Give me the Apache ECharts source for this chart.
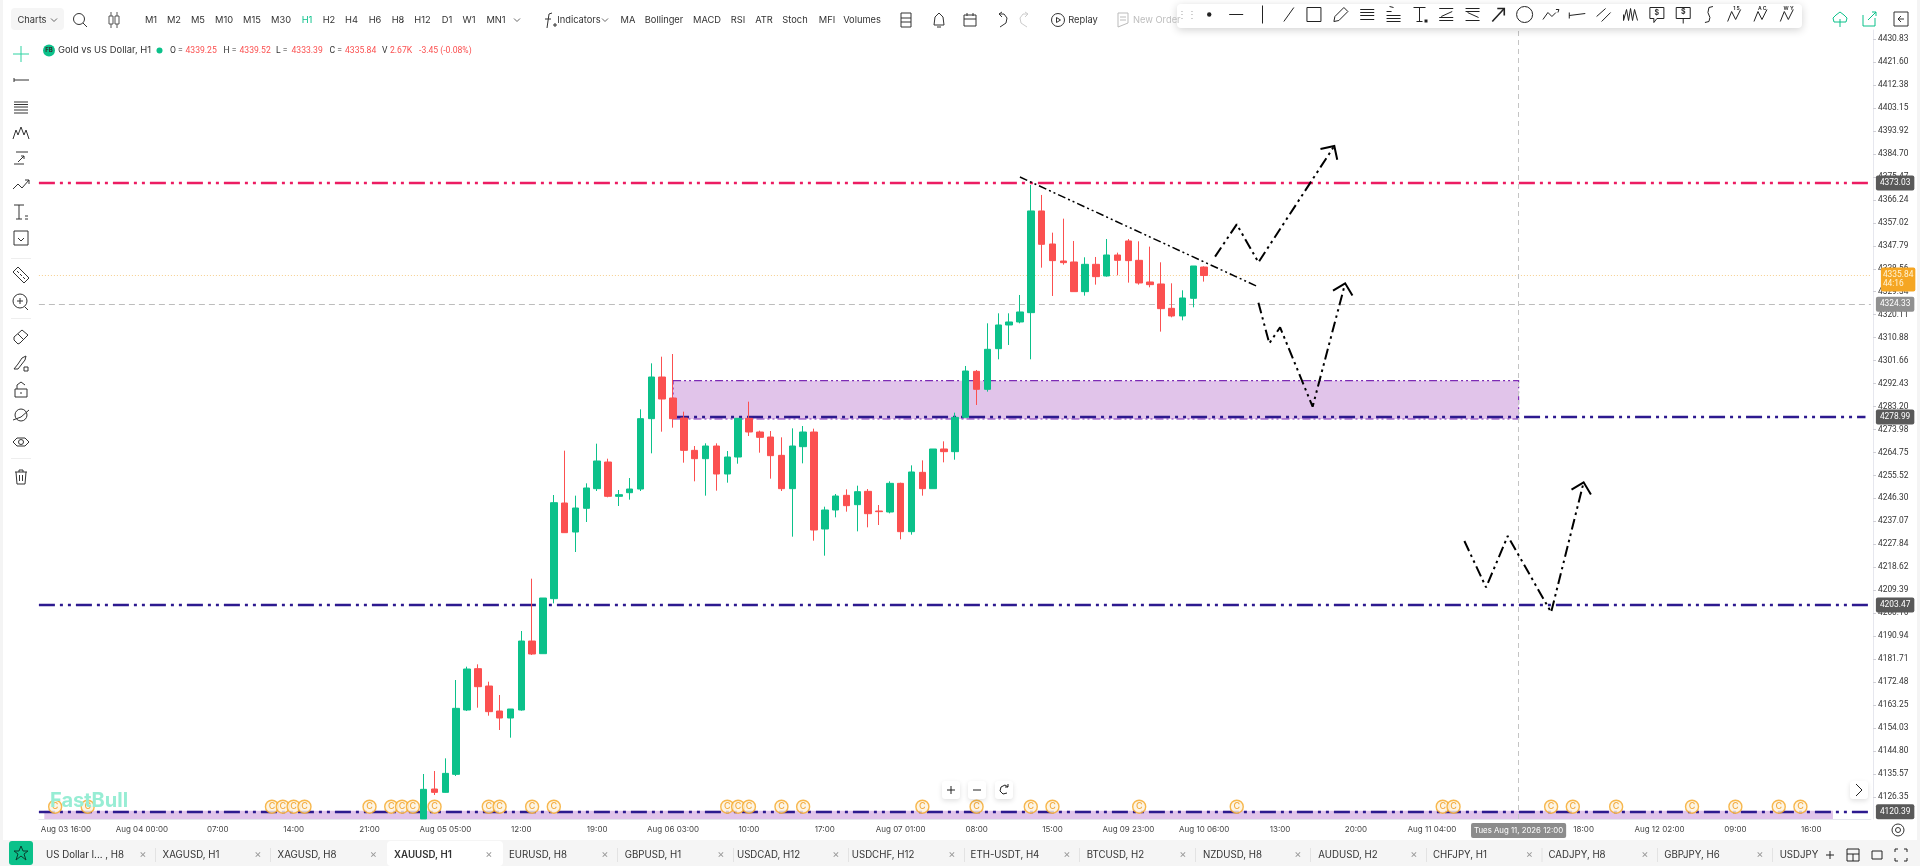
<!DOCTYPE html>
<html><head><meta charset="utf-8"><title>XAUUSD H1</title>
<style>html,body{margin:0;padding:0;background:#fff;overflow:hidden}#c{width:1920px;height:866px}</style>
<script src="https://cdn.jsdelivr.net/npm/echarts@6/dist/echarts.min.js"></script></head>
<body><div id="c"></div><script>
const tickLabels=['Aug 03 16:00','Aug 04 00:00','07:00','14:00','21:00','Aug 05 05:00','12:00','19:00','Aug 06 03:00','10:00','17:00','Aug 07 01:00','08:00','15:00','Aug 09 23:00','Aug 10 06:00','13:00','20:00','Aug 11 04:00','11:00','18:00','Aug 12 02:00','09:00','16:00'];
const priceTicks=[4430.83,4421.60,4412.38,4403.15,4393.92,4384.70,4375.47,4366.24,4357.02,4347.79,4338.56,4329.34,4320.11,4310.88,4301.66,4292.43,4283.20,4273.98,4264.75,4255.52,4246.30,4237.07,4227.84,4218.62,4209.39,4200.16,4190.94,4181.71,4172.48,4163.25,4154.03,4144.80,4135.57,4126.35];
const firstBar=33;
const opens=[4117.5,4129.50,4128.16,4135.39,4161.25,4177.86,4170.89,4160.84,4158.03,4161.25,4188.97,4183.88,4205.98,4244.43,4232.77,4242.29,4250.19,4260.90,4247.11,4248.58,4250.05,4278.32,4295.06,4286.62,4278.59,4265.59,4262.24,4267.33,4256.08,4262.91,4278.45,4272.96,4270.95,4263.58,4250.19,4267.07,4272.96,4233.98,4241.62,4247.51,4243.76,4249.12,4241.21,4240.81,4252.33,4232.91,4256.75,4250.19,4266.13,4265.06,4278.85,4297.34,4290.11,4306.45,4315.96,4317.17,4320.92,4361.78,4348.51,4341.68,4341.28,4329.36,4340.34,4335.66,4344.09,4349.72,4341.95,4333.24,4332.44,4322.66,4319.58,4326.68,4339.25];
const closes=[4129.37,4128.16,4135.79,4161.92,4177.72,4170.62,4160.58,4158.03,4161.65,4188.97,4183.75,4206.25,4244.56,4232.51,4242.42,4250.46,4261.31,4247.11,4247.78,4250.05,4278.32,4295.06,4286.22,4278.32,4265.59,4262.24,4267.33,4256.08,4262.91,4278.45,4272.96,4270.82,4263.45,4250.19,4267.33,4272.96,4233.58,4241.62,4247.24,4243.36,4248.98,4240.14,4240.95,4252.33,4232.91,4256.89,4250.19,4266.13,4265.06,4278.85,4297.47,4290.11,4306.19,4315.96,4317.17,4321.19,4361.78,4348.38,4341.82,4341.01,4329.36,4340.34,4335.39,4344.09,4341.95,4341.82,4332.84,4332.17,4322.53,4319.58,4326.81,4339.67,4335.84];
const lows=[4117.5,4127.09,4128.03,4134.72,4160.84,4162.18,4158.97,4153.21,4150.13,4160.98,4183.35,4183.88,4204.11,4232.51,4224.74,4236.79,4249.25,4246.71,4243.22,4245.77,4249.25,4264.39,4273.09,4274.70,4260.64,4253.14,4247.38,4249.38,4252.60,4260.23,4271.35,4264.65,4254.21,4249.25,4230.90,4260.37,4229.29,4223.26,4238.67,4240.95,4233.04,4234.65,4235.59,4240.28,4229.83,4231.70,4247.38,4250.19,4260.77,4261.84,4278.85,4283.82,4289.17,4302.17,4307.93,4316.63,4302.17,4339.00,4327.62,4340.21,4329.36,4327.75,4332.17,4335.39,4335.92,4332.98,4332.17,4331.10,4313.29,4319.05,4317.84,4323.06,4333.39];
const highs=[4135.53,4136.73,4141.82,4173.30,4178.66,4179.60,4172.63,4167.27,4161.65,4192.99,4214.02,4206.25,4247.64,4265.46,4247.38,4252.33,4268.27,4262.24,4249.65,4254.47,4282.07,4300.55,4303.23,4304.30,4281.13,4267.33,4268.41,4268.41,4265.32,4278.45,4285.15,4273.50,4273.36,4270.82,4274.43,4275.37,4274.30,4242.95,4248.05,4249.92,4251.39,4250.05,4243.62,4253.14,4252.60,4259.56,4261.57,4266.13,4269.21,4280.73,4299.49,4297.88,4316.63,4320.65,4320.65,4328.02,4372.22,4368.21,4353.07,4358.69,4349.72,4343.16,4343.29,4350.52,4345.03,4350.52,4349.59,4347.44,4341.15,4332.71,4329.90,4339.67,4339.52];
const resistance=4373.03, zoneLine=4278.99, support=4203.47, lowLine=4120.39, lastPrice=4335.84, pendingPrice=4324.33;
const zoneTop=4293.59, zoneBottom=4278.18, bandTop=4120.79, axisMin=4117.45, axisMax=4434.5;
const zoneBars=[56,134], bandBars=[-2,163], crossBar=134, zoneLineBars=[56,166];
const trendBars=[88,110], trendPrices=[4375.43,4331.23];
const pathABars=[106,108,110,117], pathAPrices=[4343.42,4356.41,4341.14,4387.89];
const pathBBars=[110,111,112,115,118], pathBPrices=[4324.93,4308.59,4315.02,4283.14,4332.70];
const pathCBars=[129,131,133,137,140], pathCPrices=[4229.16,4210.54,4231.17,4200.49,4252.73];
const coinBars=[-1,2,19,20,21,22,28,30,31,32,34,39,40,43,45,61,62,63,66,68,79,84,89,91,99,108,127,128,137,139,143,150,154,158,160];
const coinPrice=4122.39;
const topMenu=[['M1',151],['M2',174],['M5',198],['M10',224],['M15',252],['M30',281],['H1',307],['H2',329],['H4',351.5],['H6',375],['H8',398],['H12',422.5],['D1',447],['W1',469],['MN1',496],['Indicators',579],['MA',628],['Bollinger',664],['MACD',707],['RSI',738],['ATR',764],['Stoch',795],['MFI',827],['Volumes',862]];
const tabs=[['US Dollar I... , H8',85,143],['XAGUSD, H1',191,258],['XAGUSD, H8',307,373.5],['XAUUSD, H1',423,489],['EURUSD, H8',538,605],['GBPUSD, H1',653,721],['USDCAD, H12',768.5,836],['USDCHF, H12',883,952],['ETH-USDT, H4',1005,1067],['BTCUSD, H2',1115.5,1183],['NZDUSD, H8',1232.5,1298],['AUDUSD, H2',1348,1414],['CHFJPY, H1',1460,1529.5],['CADJPY, H8',1577,1645],['GBPJPY, H6',1692,1760],['USDJPY',1799,null]];

const leadBars=2, barCount=169, tickEvery=7;
const ix=k=>k+leadBars;
const categories=Array.from({length:barCount},(_,i)=>{const k=i-leadBars;return k>=0&&k%tickEvery===0&&tickLabels[k/tickEvery]?tickLabels[k/tickEvery]:'';});
const candles=categories.map((_,i)=>{const j=i-leadBars-firstBar;return j>=0&&j<opens.length?[opens[j],closes[j],lows[j],highs[j]]:'-';});
const FONT='Inter, "Noto Sans", sans-serif', NUM='Roboto, Inter, sans-serif';
const UP='#0bc18a',DOWN='#fb5050',NAVY='#2d1a8f',PINK='#ec1c62',INK='#333';
const tag=(txt,bg,dist,col,extra)=>Object.assign({show:true,position:'end',distance:dist,formatter:txt,backgroundColor:bg,color:col||'#fff',fontFamily:NUM,fontSize:8.4,padding:[3,4],borderRadius:2,lineHeight:9},extra||{});
const DD=[16,5,3,5,3,5];
const hline=(v,c,w,t,lab)=>({yAxis:v,lineStyle:{color:c,width:w,type:t},label:lab});
const line=(name,bars,prices,arrow,w,dash)=>({name,type:'line',z:5,silent:true,animation:false,showSymbol:true,showAllSymbol:true,
  data:bars.map((b,i)=>({value:[ix(b),prices[i]],symbol:(arrow!==null&&i===bars.length-1)?'path://M3 20L10 10L17 20M10 0L10 0':'none',symbolSize:20,symbolRotate:arrow||0})),
  lineStyle:{color:'#000',width:w,type:dash,cap:'butt'},itemStyle:{color:'rgba(0,0,0,0)',borderColor:'#000',borderWidth:2}});

const G=[];
const T=(text,x,y,o={})=>G.push({type:'text',z:o.z||100,silent:true,style:{text,x,y,fill:o.fill||INK,font:(o.weight||'400')+' '+(o.size||9.3)+'px '+(o.family||FONT),align:o.align||'center',verticalAlign:'middle',opacity:o.opacity==null?1:o.opacity}});
const R=(x,y,w,h,fill,o={})=>G.push({type:'rect',z:o.z||90,silent:true,shape:{x,y,width:w,height:h,r:o.r||0},style:{fill,stroke:o.stroke||null,lineWidth:o.lw||1,shadowBlur:o.blur||0,shadowColor:o.sc||'rgba(0,0,0,0)',shadowOffsetY:o.blur?2:0}});
const IC={
 plus:[[[-8,0],[8,0]],[[0,-8],[0,8]]],
 ray:[[[-7,0],[8,0]],[[-7,-2],[-7,2]]],
 lines:[[[-7,-5],[7,-5]],[[-7,-2.5],[7,-2.5]],[[-7,0],[7,0]],[[-7,3],[7,3]],[[-7,6],[7,6]]],
 mount:[[[-8,6],[-5,-3],[-3,2],[0,-6],[3,2],[5,-3],[8,6]]],
 hook:[[[-5,-6],[7,-6]],[[-7,6],[3,6]],[[-3,4],[3,-2]],[[0,-2],[3,-2],[3,1]]],
 zig:[[[-8,4],[-3,-1],[1,3],[8,-5]],[[4,-5],[8,-5],[8,-1]]],
 text:[[[-7,-7],[3,-7]],[[-2,-7],[-2,7]],[[-5,7],[1,7]],[[4,4],[7,4]],[[4,7],[7,7]]],
 smile:[[[-7,-7],[7,-7],[7,7],[-7,7],[-7,-7]],[[-3,0],[0,3],[3,0]]],
 ruler:[[[-8,-3],[-3,-8],[8,3],[3,8],[-8,-3]],[[-4,-4],[-2,-2]],[[-1,-1],[1,1]],[[2,2],[4,4]]],
 zoom:[{c:[-1,-1,7]},[[-1,-4],[-1,2]],[[-4,-1],[2,-1]],[[4,5],[7,8]]],
 mag:[[[-3,7],[-7,3],[-7,0],[1,-7],[7,-2],[-1,6],[-3,7]],[[-3,-3],[3,3]]],
 brush:[[[-7,6],[-3,1],[1,-5],[5,-7],[4,-3],[-3,6],[-7,6]],[[3,4],[7,4],[7,8],[3,8],[3,4]]],
 lock:[[[-6,-1],[6,-1],[6,7],[-6,7],[-6,-1]],[[-4,-1],[-4,-5],[0,-8],[4,-5]],[[0,2],[0,4]]],
 planet:[{c:[0,0,6]},[[-8,5],[0,2],[8,-5]]],
 eye:[[[-8,0],[-4,-4],[4,-4],[8,0],[4,4],[-4,4],[-8,0]],{c:[0,0,2.5]}],
 trash:[[[-6,-5],[6,-5]],[[-2,-5],[-2,-7],[2,-7],[2,-5]],[[-5,-5],[-4,7],[4,7],[5,-5]],[[-1.5,-2],[-1.5,4]],[[1.5,-2],[1.5,4]]],
 search:[{c:[-1,-1,5.5]},[[3,3],[7,7]]],
 candle:[[[-3,-8],[-3,-4]],[[-3,4],[-3,8]],{r:[-5,-4,4,8]},[[3,-8],[3,-4]],[[3,4],[3,8]],{r:[1,-4,4,8]}],
 fx:[[[-2,8],[0,-6],[3,-7]],[[-4,-1],[2,-1]],[[4,5],[8,5]],[[6,3],[6,7]]],
 card:[[[-5,-7],[5,-7],[5,7],[-5,7],[-5,-7]],[[-5,-2],[5,-2]],[[-5,2],[5,2]]],
 bell:[[[-5,5],[-4,-3],[0,-7],[4,-3],[5,5],[-5,5]],[[-2,7],[2,7]]],
 cal:[[[-6,-5],[6,-5],[6,6],[-6,6],[-6,-5]],[[-6,-1],[6,-1]],[[-3,-7],[-3,-4]],[[3,-7],[3,-4]]],
 undo:[[[-4,-6],[1,-6],[4,-2],[3,3],[-3,7]],[[-4,-6],[-1,-8]],[[-4,-6],[-1,-3]]],
 redo:[[[4,-6],[-1,-6],[-4,-2],[-3,3],[3,7]],[[4,-6],[1,-8]],[[4,-6],[1,-3]]],
 replay:[{c:[0,0,6.5]},[[-1.5,-2.5],[2.5,0],[-1.5,2.5],[-1.5,-2.5]]],
 doc:[[[-5,-7],[5,-7],[5,3],[-5,7],[-5,-7]],[[-3,-3],[3,-3]],[[-3,0],[3,0]]],
 dot:[{c:[0,0,2.2,1]}], dash:[[[-7,0],[7,0]]], vert:[[[0,-9],[0,9]]], diag:[[[-5,7],[5,-7]]],
 box:[{r:[-7,-7,14,14]}],
 pen:[[[-7,7],[-6,2],[3,-7],[7,-3],[-2,6],[-7,7]]],
 l4:[[[-7,-5],[7,-5]],[[-7,-2],[7,-2]],[[-7,1],[7,1]],[[-7,5],[7,5]]],
 fib:[[[-4,-8],[0,-7]],[[-7,-3],[-2,-3]],[[-7,1],[7,1]],[[-7,4],[7,4]],[[-7,7],[7,7]]],
 tb:[[[-7,-7],[5,-7]],[[-1,-7],[-1,7]],[[-4,7],[2,7]],{r:[4,5,3,3,1]}],
 z1:[[[-7,-6],[7,-6]],[[-7,6],[7,6]],[[-5,2],[6,-3]],[[-7,3],[7,3]]],
 z2:[[[-7,-6],[7,-6]],[[-7,6],[7,6]],[[-7,-3],[7,-3]],[[-5,-2],[6,3]]],
 arrow:[[[-6,7],[6,-6]],[[-1,-6],[6,-6],[6,1]]],
 ring:[{c:[0,0,8]}],
 w2:[[[-8,5],[-3,-2],[1,2],[5,-2]],[[5,-5],[8,-5],[7,-2]]],
 h2:[[[-8,1],[8,-1]],[[-8,-2],[-8,4]]],
 para:[[[-7,2],[2,-6]],[[-2,7],[7,-2]]],
 sm:[[[-7,0],[-7,6]],[[-4,-5],[-7,6]],[[-4,-5],[-2,6]],[[-2,6],[0,-6]],[[0,-6],[2,6]],[[2,6],[4,-5]],[[4,-5],[7,6]]],
 bub:[[[-7,-7],[7,-7],[7,4],[0,4],[-3,8],[-3,4],[-7,4],[-7,-7]]],
 flag:[[[-7,-7],[7,-7],[7,4],[-7,4],[-7,-7]],[[0,4],[0,9]]],
 curve:[[[4,-8],[0,-7],[-1,-2],[1,3],[0,7],[-4,8]]],
 nn:[[[-7,7],[-3,-3],[1,5],[6,-5]]],
 cloud:[[[-6,3],[-7,-1],[-4,-4],[0,-7],[4,-4],[7,-1],[6,3],[-6,3]],[[0,0],[0,8]]],
 share:[[[-6,-4],[-6,7],[6,7],[6,-1]],[[-1,1],[7,-7]],[[3,-7],[7,-7],[7,-3]]],
 panel:[[[-7,-7],[7,-7],[7,7],[-7,7],[-7,-7]],[[0,-3],[-3,0],[0,3]],[[-3,0],[3,0]]],
 gear:[{c:[0,0,6]},{c:[0,0,2.5]}],
 chev:[[[-3,-6],[3,0],[-3,6]]],
 chevd:[[[-3,-1.5],[0,1.5],[3,-1.5]]],
 minus:[[[-4,0],[4,0]]], plusS:[[[-4,0],[4,0]],[[0,-4],[0,4]]],
 reset:[[[4,-3],[1,-5],[-3,-3],[-4,1],[-1,4],[3,3]],[[4,-6],[4,-3],[1,-3]]],
 layout:[[[-6,-6],[6,-6],[6,6],[-6,6],[-6,-6]],[[-6,-1],[6,-1]],[[0,-1],[0,6]]],
 win:[[[-5,-4],[5,-4],[5,4],[-5,4],[-5,-4]]],
 full:[[[-6,-3],[-6,-6],[-3,-6]],[[3,-6],[6,-6],[6,-3]],[[6,3],[6,6],[3,6]],[[-3,6],[-6,6],[-6,3]]],
 star:[[[0,-7],[2,-2],[7,-2],[3,1],[5,7],[0,3],[-5,7],[-3,1],[-7,-2],[-2,-2],[0,-7]]]
};
const icon=(name,x,y,color,lw)=>{(IC[name]||[]).forEach(p=>{
 const st={stroke:color||'#333',fill:null,lineWidth:lw||1};
 if(Array.isArray(p))G.push({type:'polyline',z:101,silent:true,x,y,shape:{points:p},style:st});
 else if(p.c)G.push({type:'circle',z:101,silent:true,x,y,shape:{cx:p.c[0],cy:p.c[1],r:p.c[2]},style:p.c[3]?{fill:color||'#333'}:{...st}});
 else if(p.r)G.push({type:'rect',z:101,silent:true,x,y,shape:{x:p.r[0],y:p.r[1],width:p.r[2],height:p.r[3]},style:p.r[4]?{fill:color||'#333'}:{...st}});
});};
// frame
R(0,0,3,866,'#f4f4f4',{z:80});R(1917,0,3,866,'#f4f4f4',{z:80});R(0,840,1920,26,'#f5f5f5',{z:80});
// top bar
R(11,8,53,22,'#f5f5f5',{r:4});
T('Charts',32,20);icon('chevd',54,20,'#666',1);icon('chevd',605,20,'#666',1);icon('chevd',517,20,'#666',1);
[['search',80,20],['candle',114,20,'#555'],['fx',549,20],['card',906,20],['bell',939,20],['cal',970,20],['undo',1003,20],['redo',1024,20,'#ccc'],['replay',1058,20],['doc',1123,20,'#bbb'],['cloud',1840,19,'#0bc18a'],['share',1869,19,'#0bc18a'],['panel',1901,19]].forEach(a=>icon(a[0],a[1],a[2],a[3],1));
topMenu.forEach(m=>T(m[0],m[1],20,{fill:m[0]==='H1'?'#0bc18a':INK}));
T('Replay',1083,20);T('New Order',1133,20,{align:'left',fill:'#bdbdbd'});
R(1177,4,625,24,'#fff',{r:4,blur:8,sc:'rgba(0,0,0,0.18)',z:95});
[['dot',407],['dash',451],['vert',494],['diag',537],['box',578],['pen',622],['l4',665],['fib',708],['tb',752],['z1',794],['z2',837],['arrow',879,1.6],['ring',922],['w2',965],['h2',1008],['para',1051],['sm',1095],['bub',1138],['flag',1181],['curve',1223],['nn',1265],['nn',1308],['nn',1351]].forEach(a=>icon(a[0],960+a[1]/1.633,14.5,'#222',a[2]||1));
T('⋮⋮',960+370/1.633,14.5,{fill:'#aaa',size:10,z:101});
T('1 5',960+1268/1.633,8,{size:5,z:102,weight:'700'});T('A C',960+1310/1.633,8,{size:5,z:102,weight:'700'});T('W Y',960+1353/1.633,8,{size:5,z:102,weight:'700'});
T('$',960+1138/1.633,12.5,{size:7,z:102,weight:'700'});T('$',960+1181/1.633,12,{size:7,z:102,weight:'700'});
// left bar
[['plus',54,'#2fd3a2'],['ray',80],['lines',107],['mount',133],['hook',158],['zig',185],['text',212],['smile',238],['ruler',275],['zoom',302],['mag',337],['brush',363],['lock',390],['planet',415],['eye',442],['trash',477]].forEach(a=>icon(a[0],21,a[1],a[2]||'#333',1));
[258,318,458].forEach(y=>R(11,y,20,1,'#eeeeee'));
// header
G.push({type:'circle',z:100,silent:true,shape:{cx:49,cy:50.5,r:6},style:{fill:'#0bc18a'}});
T('FB',49,50.5,{size:6,weight:'700',z:101});
T('Gold vs US Dollar, H1',58,50.5,{align:'left',size:9.4});
G.push({type:'circle',z:100,silent:true,shape:{cx:159.5,cy:50.5,r:3},style:{fill:'#0bc18a'}});
[['O =',170,INK],['4339.25',185.5,DOWN],['H =',223.5,INK],['4339.52',239.5,DOWN],['L =',276,INK],['4333.39',291.5,DOWN],['C =',329.5,INK],['4335.84',345,DOWN],['V',382,INK],['2.67K',390,DOWN],['-3.45 (-0.08%)',419,DOWN]].forEach(a=>T(a[0],a[1],50.5,{align:'left',fill:a[2],size:8.6,family:NUM}));
// logo & nav
T('FastBull',50,801,{align:'left',size:20,weight:'700',fill:'#97edd4',z:60});
[[951,'plusS'],[977,'minus'],[1004,'reset']].forEach(a=>{R(a[0]-9,781,18,18,'#fff',{r:3,blur:5,sc:'rgba(0,0,0,0.12)'});icon(a[1],a[0],790,'#222',1);});
R(1850,781,18,18,'#fff',{r:3,blur:5,sc:'rgba(0,0,0,0.12)'});icon('chev',1859,790,'#222',1);
icon('gear',1898,830,'#333',1);
// tabs
R(9,841,24,24,'#0bc18a',{r:3});icon('star',21,853,'#0a3d2e',1);
R(387,841,116,25,'#fff',{r:4});
tabs.forEach((t,i)=>{T(t[0],t[1],855,{size:9.7,weight:t[0]==='XAUUSD, H1'?'600':'400'});if(t[2]){T('×',t[2],855,{size:11,fill:'#999'});if(i!==2&&i!==3)R(t[2]+12,848,1,14,'#e3e3e3');}});
[['plusS',1830,'#222'],['layout',1853,'#222'],['win',1877,'#222'],['full',1901,'#222']].forEach(a=>icon(a[0],a[1],855,a[2],1));

const chart=echarts.init(document.getElementById('c'),null,{renderer:'canvas'});
chart.setOption({animation:false,backgroundColor:'#fff',graphic:{elements:G},
 grid:{left:38.9,right:49.1,top:30,bottom:47},
 xAxis:{type:'category',data:categories,boundaryGap:true,
  axisLine:{lineStyle:{color:'#e6e7ee'}},
  axisTick:{alignWithLabel:true,length:3,lineStyle:{color:'#cfcfd6'},interval:(i,n)=>n!==''},
  axisLabel:{interval:(i,n)=>n!=='',color:'#444',fontSize:8,fontFamily:FONT,margin:7,hideOverlap:false},splitLine:{show:false}},
 yAxis:{type:'value',position:'right',offset:2.1,min:axisMin,max:axisMax,scale:true,
  axisLine:{show:true,lineStyle:{color:'#e6e7ee'}},
  axisTick:{show:true,length:3,lineStyle:{color:'#cfcfd6'},customValues:priceTicks},
  axisLabel:{customValues:priceTicks,color:'#333',fontSize:8.4,fontFamily:NUM,margin:5,formatter:v=>v.toFixed(2),showMinLabel:true,showMaxLabel:true},splitLine:{show:false}},
 series:[
  {name:'XAUUSD',type:'candlestick',z:3,data:candles,barWidth:7,
   itemStyle:{color:UP,color0:DOWN,borderColor:UP,borderColor0:DOWN,borderWidth:1},
   markArea:{silent:true,z:1,data:[
     [{xAxis:ix(zoneBars[0]),yAxis:zoneTop,itemStyle:{color:'#e1c4ea',borderColor:'#7d2bb5',borderWidth:1.2,borderType:[8,3,2,3,2,3]}},{xAxis:ix(zoneBars[1]),yAxis:zoneBottom}],
     [{xAxis:ix(bandBars[0]),yAxis:bandTop,itemStyle:{color:'#e1c4ea'}},{xAxis:ix(bandBars[1]),yAxis:axisMin}]
   ]},
   markLine:{silent:true,z:1,symbol:'none',animation:false,data:[
     hline(resistance,PINK,2.4,DD,tag('4373.03','#595959',5)),
     [{xAxis:ix(zoneLineBars[0]),yAxis:zoneLine,lineStyle:{color:NAVY,width:2.4,type:DD},label:tag('4278.99','#595959',10.4)},{xAxis:ix(zoneLineBars[1]),yAxis:zoneLine}],
     hline(support,NAVY,2.4,DD,tag('4203.47','#595959',5)),
     hline(lowLine,NAVY,2.4,DD,tag('4120.39','#595959',5)),
     hline(lastPrice,'#f6cf8e',1,[1,2],tag('4335.84\n44:16','#f5a623',10,'#fff4d6',{offset:[0,4],padding:[3,2]})),
     hline(pendingPrice,'#bdbdbd',1,[6,4],tag('4324.33','#909090',5)),
     {xAxis:ix(crossBar),lineStyle:{color:'#c4c4c4',width:1,type:[5,4]},label:{show:true,position:'start',distance:4,formatter:'Tues Aug 11, 2026 12:00',backgroundColor:'#8c8c8c',color:'#fff',fontFamily:FONT,fontSize:7.8,padding:[3.5,3],borderRadius:2}}
   ]}},
  {name:'Coins',type:'scatter',z:6,silent:true,symbol:'circle',symbolSize:13,
   data:coinBars.map(b=>[ix(b),coinPrice]),
   itemStyle:{color:'#fdf3df',borderColor:'#f5a623',borderWidth:1.4},
   label:{show:true,position:'inside',formatter:'C',color:'#f09a16',fontSize:9,fontFamily:FONT,fontWeight:500}},
  line('Trend',trendBars,trendPrices,null,1.5,[8,3,2,3,2,3]),
  line('Path A',pathABars,pathAPrices,-33,2,[11,4,2.5,4,2.5,4]),
  line('Path B',pathBBars,pathBPrices,-14,2,[11,4,2.5,4,2.5,4]),
  line('Path C',pathCBars,pathCPrices,-14,2,[11,4,2.5,4,2.5,4])
 ]});
</script></body></html>
